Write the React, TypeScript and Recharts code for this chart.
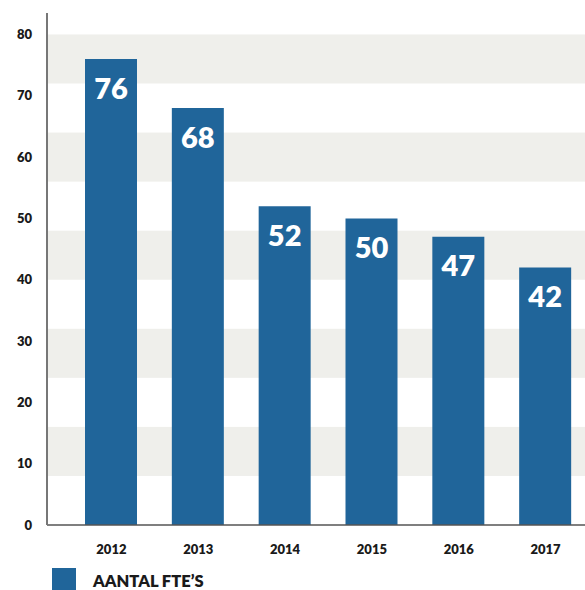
import React from 'react';
import {
  BarChart,
  Bar,
  XAxis,
  YAxis,
  ReferenceArea,
  LabelList,
  Legend,
} from 'recharts';

const years = ['2012', '2013', '2014', '2015', '2016', '2017'];
const fteValues = [76, 68, 52, 50, 47, 42];
const yTicks = [0, 10, 20, 30, 40, 50, 60, 70, 80];
// grey stripes behind the bars (every 8 units)
const stripes = [
  [8, 16],
  [24, 32],
  [40, 48],
  [56, 64],
  [72, 80],
];

const FONT = 'Lato, "Open Sans", sans-serif';
const BLUE = '#20659a';
const AXIS_LEFT = 47;

const data = years.map((year, i) => ({ year, fte: fteValues[i] }));

// stripe reaches from the y axis to the right edge, ignoring the x padding
const Stripe = (props: any) => (
  <rect x={AXIS_LEFT} y={props.y} width={585 - AXIS_LEFT} height={props.height} fill="#efefeb" />
);

const LegendContent = () => (
  <div style={{ display: 'flex', alignItems: 'flex-start', paddingLeft: 52, fontFamily: FONT }}>
    <div style={{ width: 24, height: 22, background: BLUE, marginRight: 17, marginTop: 8 }} />
    <span style={{ fontWeight: 800, fontSize: 16.5, lineHeight: 1, marginTop: 13, color: '#1a1a1a' }}>
      AANTAL FTE&rsquo;S
    </span>
  </div>
);

const App: React.FC = () => {
  return (
    <div style={{ position: 'absolute', left: 0, top: 0, width: 585, height: 590, overflow: 'hidden' }}>
      <BarChart
        width={585}
        height={590}
        data={data}
        margin={{ top: 13, right: -4, left: 0, bottom: 0 }}
        barSize={52}
      >
        {stripes.map(([y1, y2]) => (
          <ReferenceArea key={y1} y1={y1} y2={y2} shape={<Stripe />} ifOverflow="visible" />
        ))}
        <XAxis
          dataKey="year"
          axisLine={{ stroke: '#555', strokeWidth: 1.5 }}
          tickLine={false}
          padding={{ left: 21, right: 0 }}
          tick={{ fill: '#1a1a1a', fontSize: 13, fontWeight: 800, fontFamily: FONT }}
          tickMargin={14}
          height={35}
        />
        <YAxis
          domain={[0, 83.5]}
          ticks={yTicks}
          width={AXIS_LEFT}
          axisLine={{ stroke: '#777', strokeWidth: 2 }}
          tickLine={false}
          tickSize={8}
          tickMargin={7}
          tick={{ fill: '#1a1a1a', fontSize: 13, fontWeight: 800, fontFamily: FONT }}
        />
        <Legend verticalAlign="bottom" height={30} content={<LegendContent />} />
        <Bar dataKey="fte" fill={BLUE} isAnimationActive={false}>
          <LabelList
            dataKey="fte"
            position="insideTop"
            offset={19}
            fill="#fff"
            fontSize={29}
            fontWeight={800}
            fontFamily={FONT}
          />
        </Bar>
      </BarChart>
    </div>
  );
};

export default App;
